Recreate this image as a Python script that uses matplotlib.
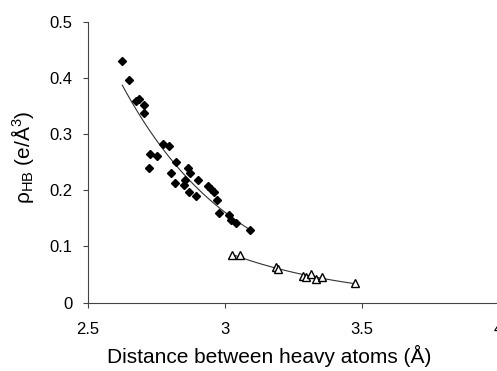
import numpy as np
import matplotlib
matplotlib.use('Agg')
import matplotlib.pyplot as plt

# 氢键数据（菱形）
hb_x = [2.627, 2.650, 2.678, 2.687, 2.706, 2.706, 2.726, 2.729, 2.753, 2.775,
        2.796, 2.804, 2.819, 2.822, 2.852, 2.854, 2.867, 2.870, 2.872, 2.897,
        2.903, 2.940, 2.951, 2.960, 2.972, 2.979, 3.016, 3.024, 3.040, 3.094]
hb_y = [0.429, 0.396, 0.359, 0.363, 0.351, 0.338, 0.240, 0.264, 0.261, 0.282,
        0.279, 0.230, 0.213, 0.250, 0.209, 0.218, 0.240, 0.196, 0.231, 0.189,
        0.218, 0.208, 0.202, 0.197, 0.182, 0.160, 0.155, 0.146, 0.142, 0.129]

# 弱相互作用（三角形）
wk_x = [3.026, 3.056, 3.186, 3.195, 3.286, 3.298, 3.316, 3.332, 3.357, 3.474]
wk_y = [0.084, 0.084, 0.064, 0.060, 0.048, 0.045, 0.050, 0.041, 0.045, 0.035]

x_ticks = [2.5, 3.0, 3.5, 4.0]
x_labels = ['2.5', '3', '3.5', '4']
y_ticks = [0, 0.1, 0.2, 0.3, 0.4, 0.5]
y_labels = ['0', '0.1', '0.2', '0.3', '0.4', '0.5']

plt.rcParams['font.family'] = ['Liberation Sans', 'DejaVu Sans']
plt.rcParams['mathtext.fontset'] = 'custom'
plt.rcParams['mathtext.rm'] = 'Liberation Sans'
plt.rcParams['mathtext.it'] = 'Liberation Sans:italic'


def exp_fit(x, y):
    # Excel 风格的指数趋势线
    x = np.asarray(x)
    b, a = np.polyfit(x, np.log(y), 1)
    xs = np.linspace(x.min(), x.max(), 100)
    return xs, np.exp(a) * np.exp(b * xs)


fig = plt.figure(figsize=(4.97, 3.71), dpi=100)
ax = fig.add_axes([0.1761, 0.1846, 0.8274, 0.7574])

xs, ys = exp_fit(hb_x, hb_y)
ax.plot(xs, ys, color='#333333', lw=0.8, zorder=2)
xs, ys = exp_fit(wk_x, wk_y)
ax.plot(xs, ys, color='#333333', lw=0.8, zorder=2)

ax.plot(hb_x, hb_y, 'D', color='black', markersize=4.3, zorder=3, linestyle='none')
ax.plot(wk_x, wk_y, '^', markerfacecolor='white', markeredgecolor='black',
        markeredgewidth=1.0, markersize=6, zorder=3, linestyle='none')

ax.set_xlim(2.5, 4.0)
ax.set_ylim(0, 0.5)
ax.set_xticks(x_ticks)
ax.set_xticklabels(x_labels)
ax.set_yticks(y_ticks)
ax.set_yticklabels(y_labels)
ax.tick_params(direction='out', length=3.6, width=0.8, color='#444444',
               labelsize=12)
ax.tick_params(axis='x', pad=10.5)
ax.tick_params(axis='y', pad=7)

for s in ['top', 'right']:
    ax.spines[s].set_visible(False)
for s in ['left', 'bottom']:
    ax.spines[s].set_color('#444444')
    ax.spines[s].set_linewidth(0.8)

ax.set_xlabel('Distance between heavy atoms (Å)', fontsize=15)
ax.xaxis.set_label_coords(0.4416, -0.152)
ax.set_ylabel('ρ$_{\\mathrm{HB}}$ (e/Å$^{3}$)', fontsize=15)
ax.yaxis.set_label_coords(-0.125, 0.518)

fig.savefig('out.png', dpi=100)
